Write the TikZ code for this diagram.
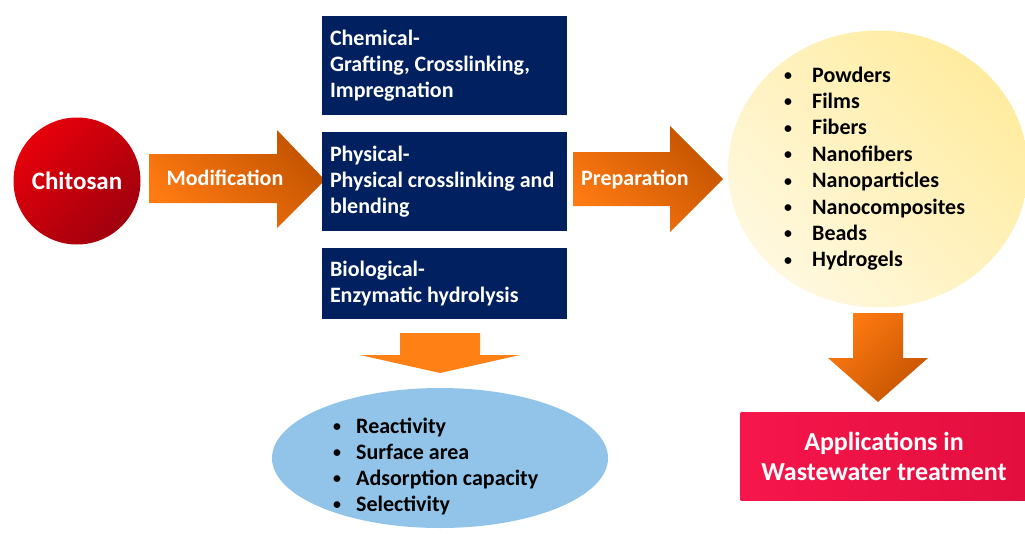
\documentclass[tikz,border=0pt]{standalone}
\usepackage{fontspec}
\usepackage{graphicx}
\setmainfont{Carlito}
\usetikzlibrary{shapes.geometric}
\definecolor{navy}{RGB}{0,32,96}
\definecolor{orbright}{RGB}{255,122,18}
\definecolor{ordark}{RGB}{196,84,0}
\definecolor{orflat}{RGB}{255,128,20}
\definecolor{redbright}{RGB}{230,0,10}
\definecolor{reddark}{RGB}{160,0,14}
\definecolor{yelpale}{RGB}{255,248,222}
\definecolor{yeldeep}{RGB}{255,236,160}
\definecolor{ltblue}{RGB}{145,196,232}
\definecolor{crimsonA}{RGB}{246,22,75}
\definecolor{crimsonB}{RGB}{226,14,62}
\tikzset{
  bodytext/.style={font=\bfseries\fontsize{22}{25.7}\selectfont},
  navybox/.style={rectangle, fill=navy, text=white, bodytext, minimum width=245pt,
     inner xsep=8pt, inner ysep=0pt},
  arrowtext/.style={text=white, bodytext, anchor=base, inner sep=0pt},
  listitem/.style={bodytext, text=black, anchor=base west, inner sep=0pt},
  rightarrow/.style={top color=ordark, bottom color=orbright, shading angle=-45},
}
\newcommand{\boxtext}[1]{\parbox{229pt}{\raggedright #1}}
\newcommand{\smbullet}{\raisebox{0.07em}{\scalebox{0.72}{•}}}
\newcommand{\yb}[1]{\makebox[28pt][l]{\smbullet}#1}
\newcommand{\bb}[1]{\makebox[23pt][l]{\smbullet}#1}
\begin{document}
\begin{tikzpicture}[x=1pt,y=-1pt]
\useasboundingbox (0,0) rectangle (1025,533);

% Chitosan
\node[circle, minimum size=127pt, inner sep=0pt, top color=redbright, bottom color=reddark,
      shading angle=45, text=white, font=\bfseries\fontsize{25}{28}\selectfont] (chitosan) at (77,181) {Chitosan\hspace{6pt}};

% Modification arrow
\shade[rightarrow] (149,154) -- (277,154) -- (277,130) -- (325,180) -- (277,228) -- (277,203) -- (149,203) -- cycle;
\node[arrowtext] (modif) at (225,185) {Modification};

% Navy boxes
\node[navybox, minimum height=99pt] (chem) at (444.5,65.5) {\boxtext{Chemical-\\Grafting, Crosslinking,\\Impregnation}};
\node[navybox, minimum height=99pt] (phys) at (444.5,181.5) {\boxtext{Physical-\\Physical crosslinking and\\blending}};
\node[navybox, minimum height=71pt] (bio) at (444.5,283.5) {\boxtext{Biological-\\Enzymatic hydrolysis}};

% Preparation arrow
\shade[rightarrow] (573,152) -- (670,152) -- (670,126) -- (723,179) -- (670,232) -- (670,206) -- (573,206) -- cycle;
\node[arrowtext] (prep) at (635,185) {Preparation};

% Yellow ellipse with forms
\node[ellipse, minimum width=300pt, minimum height=277pt, inner sep=0pt,
      top color=yeldeep, bottom color=yelpale, shading angle=-45] (forms) at (878,169) {};
\node[listitem] (f1) at (784,82) {\yb{Powders}};
\node[listitem] (f2) at (784,108.4) {\yb{Films}};
\node[listitem] (f3) at (784,134.8) {\yb{Fibers}};
\node[listitem] (f4) at (784,161.2) {\yb{Nanofibers}};
\node[listitem] (f5) at (784,187.6) {\yb{Nanoparticles}};
\node[listitem] (f6) at (784,214) {\yb{Nanocomposites}};
\node[listitem] (f7) at (784,240.4) {\yb{Beads}};
\node[listitem] (f8) at (784,266.8) {\yb{Hydrogels}};

% Down arrow to applications
\shade[top color=orbright, bottom color=ordark, shading angle=45]
  (853,313) -- (903,313) -- (903,358) -- (928,358) -- (878,402) -- (828,358) -- (853,358) -- cycle;

% Applications box
\node[rectangle, minimum width=287pt, minimum height=88pt, inner sep=0pt,
      left color=crimsonA, right color=crimsonB, text=white, align=center,
      font=\bfseries\fontsize{26}{30}\selectfont] (appl) at (884,456) {Applications in\\Wastewater treatment};

% Down arrow to properties
\fill[orflat] (400,333) -- (480,333) -- (480,355) -- (520,355) -- (440,373) -- (360,355) -- (400,355) -- cycle;

% Blue ellipse with properties
\node[ellipse, minimum width=336pt, minimum height=140pt, inner sep=0pt, fill=ltblue] (props) at (440,458) {};
\node[listitem] (p1) at (333,433) {\bb{Reactivity}};
\node[listitem] (p2) at (333,459) {\bb{Surface area}};
\node[listitem] (p3) at (333,485) {\bb{Adsorption capacity}};
\node[listitem] (p4) at (333,511) {\bb{Selectivity}};
\end{tikzpicture}
\end{document}
